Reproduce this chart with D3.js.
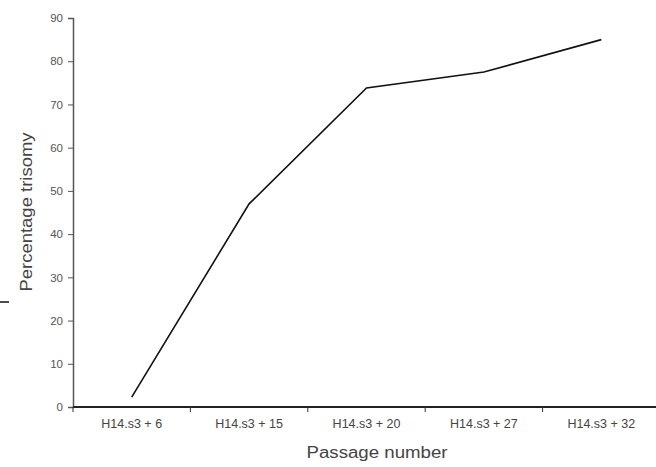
<!DOCTYPE html>
<html>
<head>
<meta charset="utf-8">
<script src="https://cdn.jsdelivr.net/npm/d3@7"></script>
<style>
  body { margin: 0; background: #fff; }
  svg { display: block; font-family: "Liberation Sans", Arial, sans-serif; }
</style>
</head>
<body>
<div id="chart"></div>
<script>
// passage categories and % trisomy
let passages = ["H14.s3 + 6", "H14.s3 + 15", "H14.s3 + 20", "H14.s3 + 27", "H14.s3 + 32"];
let trisomy = [2.3, 47, 73.8, 77.5, 85];
let yTicks = [0, 10, 20, 30, 40, 50, 60, 70, 80, 90];

let svg = d3.select("#chart").append("svg")
    .attr("width", 656)
    .attr("height", 467);

let plotLeft = 73, plotRight = 660, plotTop = 18, plotBottom = 407;

let xScale = d3.scaleBand()
    .domain(passages)
    .range([plotLeft, plotRight]);

let yScale = d3.scaleLinear()
    .domain([0, 90])
    .range([plotBottom, plotTop]);

// y axis
let yAxis = svg.append("g")
    .attr("transform", "translate(" + plotLeft + ",0)")
    .call(d3.axisLeft(yScale).tickValues(yTicks).tickSize(5).tickPadding(5));
yAxis.select(".domain").attr("stroke", "#555").attr("stroke-width", 1.5);
yAxis.selectAll(".tick line").attr("stroke", "#555");
yAxis.selectAll(".tick text")
    .attr("font-size", 11.5)
    .attr("fill", "#555");

// x axis, ticks sit between the categories
let xAxis = svg.append("g")
    .attr("transform", "translate(0," + plotBottom + ")");
xAxis.append("line")
    .attr("x1", plotLeft).attr("x2", plotRight)
    .attr("stroke", "#222").attr("stroke-width", 2);
xAxis.selectAll(".xtick")
    .data(passages.slice(1))
    .enter()
    .append("line")
    .attr("class", "xtick")
    .attr("x1", function (d) { return xScale(d); })
    .attr("x2", function (d) { return xScale(d); })
    .attr("y1", 0).attr("y2", 5)
    .attr("stroke", "#333");
xAxis.append("line")
    .attr("x1", plotLeft).attr("x2", plotLeft).attr("y1", 0).attr("y2", 5)
    .attr("stroke", "#333");
xAxis.selectAll(".xlabel")
    .data(passages)
    .enter()
    .append("text")
    .attr("class", "xlabel")
    .attr("x", function (d) { return xScale(d) + xScale.bandwidth() / 2; })
    .attr("y", 21)
    .attr("text-anchor", "middle")
    .attr("font-size", 12.5)
    .attr("fill", "#444")
    .text(function (d) { return d; });

// axis titles
svg.append("text")
    .attr("x", 377)
    .attr("y", 458)
    .attr("text-anchor", "middle")
    .attr("font-size", 16)
    .attr("textLength", 141)
    .attr("lengthAdjust", "spacingAndGlyphs")
    .attr("fill", "#444")
    .text("Passage number");

svg.append("text")
    .attr("transform", "translate(32,212) rotate(-90)")
    .attr("text-anchor", "middle")
    .attr("font-size", 17)
    .attr("textLength", 159)
    .attr("lengthAdjust", "spacingAndGlyphs")
    .attr("fill", "#444")
    .text("Percentage trisomy");

// small stray mark at the left edge of the scan
svg.append("line")
    .attr("x1", 0).attr("x2", 9)
    .attr("y1", 302).attr("y2", 302)
    .attr("stroke", "#111").attr("stroke-width", 1.5);

// the line
let line = d3.line()
    .x(function (d, i) { return xScale(passages[i]) + xScale.bandwidth() / 2; })
    .y(function (d) { return yScale(d); });

svg.append("path")
    .datum(trisomy)
    .attr("d", line)
    .attr("fill", "none")
    .attr("stroke", "#111")
    .attr("stroke-width", 1.6);
</script>
</body>
</html>
